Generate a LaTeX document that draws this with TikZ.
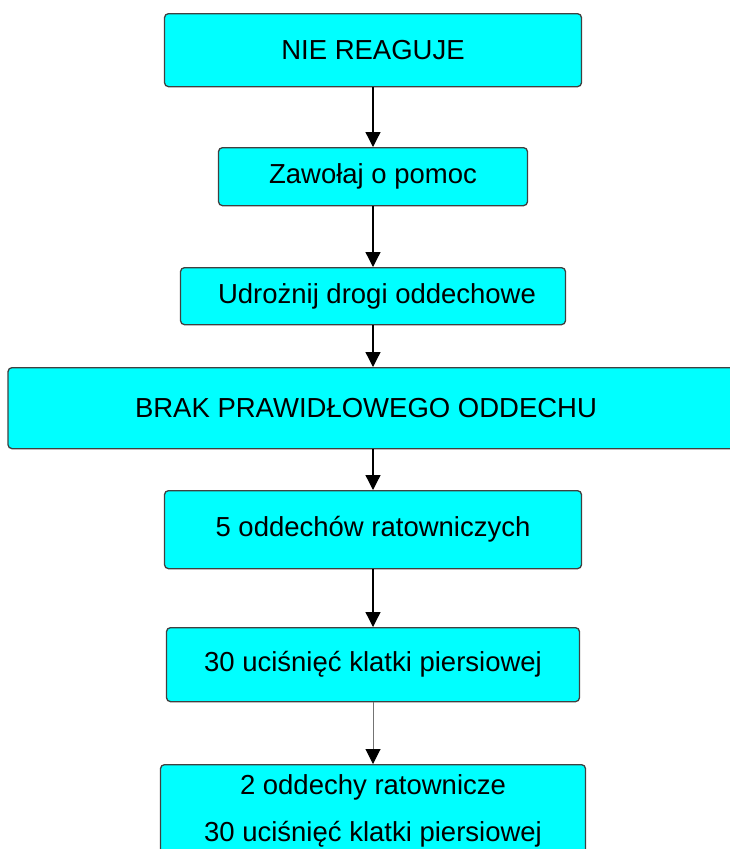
\documentclass[tikz,border=0pt]{standalone}
\usepackage{fontspec}
\setmainfont{Liberation Sans}
\usetikzlibrary{arrows.meta}
\definecolor{boxcyan}{RGB}{0,255,255}
\begin{document}
\begin{tikzpicture}[x=1pt,y=-1pt,
  box/.style={draw=black!75, fill=boxcyan, rounded corners=4pt, line width=1.3pt,
    font=\fontsize{27.5}{47}\selectfont, inner sep=0pt, anchor=north, align=center},
  link/.style={-{Triangle[length=15pt,width=15pt]}, line width=1.3pt, draw=black},
  thinlink/.style={-{Triangle[length=15pt,width=15pt,color=black]}, line width=1pt, draw=black!55}]
\useasboundingbox (0,0) rectangle (730,849);
\clip (0,0) rectangle (730,849);
\node[box, minimum width=417pt, minimum height=73pt] (n1) at (373,13) {NIE REAGUJE};
\node[box, minimum width=309pt, minimum height=58pt] (n2) at (373,147) {Zawołaj o pomoc};
\node[box, minimum width=385pt, minimum height=57pt] (n3) at (373,267) {\hspace*{8pt}Udrożnij drogi oddechowe};
\node[box, minimum width=730pt, minimum height=81pt] (n4) at (373,367) {\hspace*{-14pt}BRAK PRAWIDŁOWEGO ODDECHU};
\node[box, minimum width=417pt, minimum height=78pt] (n5) at (373,490) {5 oddechów ratowniczych};
\node[box, minimum width=413pt, minimum height=74pt] (n6) at (373,627) {30 uciśnięć klatki piersiowej};
\node[box, minimum width=425pt, minimum height=92pt] (n7) at (373,764) {2 oddechy ratownicze\\30 uciśnięć klatki piersiowej};
\draw[link] (n1.south) -- (n2.north);
\draw[link] (n2.south) -- (n3.north);
\draw[link] (n3.south) -- (n4.north);
\draw[link] (n4.south) -- (n5.north);
\draw[link] (n5.south) -- (n6.north);
\draw[thinlink] (n6.south) -- (n7.north);
\end{tikzpicture}
\end{document}
